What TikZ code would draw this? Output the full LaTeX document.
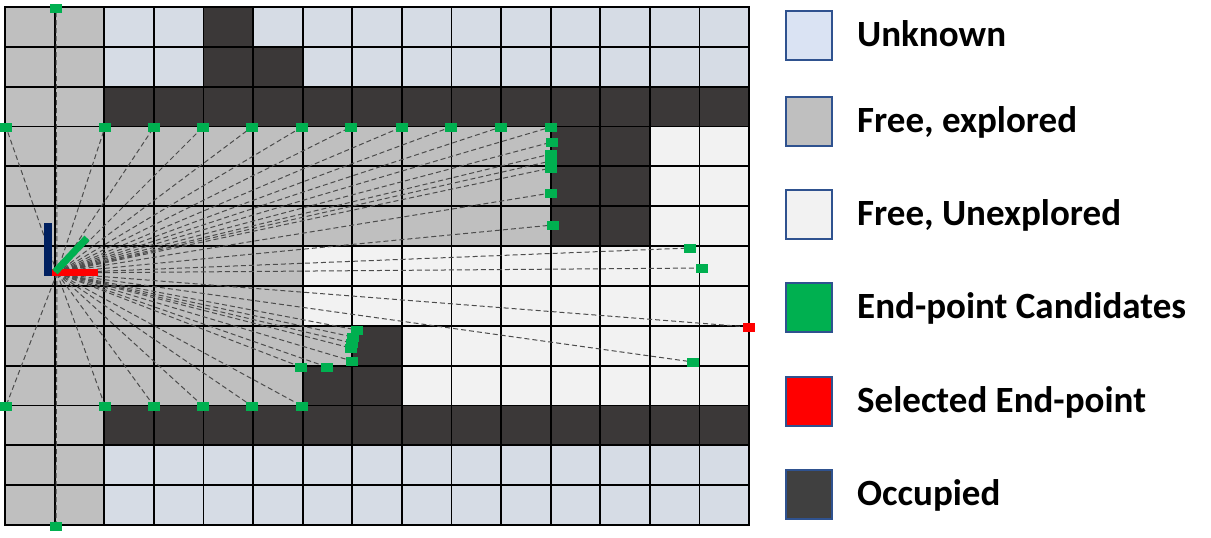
\documentclass[tikz,border=0pt]{standalone}
\usepackage{fontspec}
\setmainfont{Carlito}
\definecolor{cgray}{HTML}{BFBFBF}
\definecolor{cunk}{HTML}{D6DCE5}
\definecolor{cunkleg}{HTML}{DAE3F3}
\definecolor{cocc}{HTML}{3B3838}
\definecolor{coccleg}{HTML}{404040}
\definecolor{clight}{HTML}{F2F2F2}
\definecolor{cgreen}{HTML}{00B050}
\definecolor{cblue}{HTML}{002060}
\definecolor{legborder}{HTML}{2F528F}
\pgfdeclarelayer{gridlayer}
\pgfdeclarelayer{raylayer}
\pgfsetlayers{gridlayer,raylayer,main}
\begin{document}
\begin{tikzpicture}[x=1pt,y=-1pt,
  gridline/.style={black,line width=1.8pt,line cap=rect},
  ray/.style={black!70,line width=1pt,dash pattern=on 5pt off 3pt},
  endpt/.style={rectangle,fill=cgreen,minimum width=12pt,minimum height=9pt,inner sep=0pt,outer sep=0pt},
  selpt/.style={endpt,fill=red},
  legbox/.style={rectangle,draw=legborder,line width=2pt,minimum width=46pt,minimum height=49pt,inner sep=0pt},
  legtext/.style={anchor=base west,inner sep=0pt,font=\fontsize{37}{44}\selectfont\bfseries}]
\useasboundingbox (0,0) rectangle (1211,538);

% ---------- grid ----------
\begin{pgfonlayer}{gridlayer}
\begin{scope}[shift={(5,7)},x=49.6pt,y=-39.846pt]
 \fill[cgray] (0,0) rectangle (15,13);
 \fill[cunk] (2,0) rectangle (4,2) (5,0) rectangle (15,1) (6,1) rectangle (15,2) (2,11) rectangle (15,13);
 \fill[cocc] (4,0) rectangle (5,1) (4,1) rectangle (6,2) (2,2) rectangle (15,3)
   (11,3) rectangle (13,6) (7,8) rectangle (8,9) (6,9) rectangle (8,10) (2,10) rectangle (15,11);
 \fill[clight] (13,3) rectangle (15,6) (6,6) rectangle (15,8) (8,8) rectangle (15,10);
 \foreach \i in {0,...,15} \draw[gridline] (\i,0) -- (\i,13);
 \foreach \j in {0,...,13} \draw[gridline] (0,\j) -- (15,\j);
\end{scope}
\end{pgfonlayer}

% ---------- origin ----------
\coordinate (o) at (57,273);

% ---------- end-point candidates ----------
\node[endpt] (t0) at (6,127) {};
\node[endpt] (t1) at (105,127) {};
\node[endpt] (t2) at (154,127) {};
\node[endpt] (t3) at (203,127) {};
\node[endpt] (t4) at (252,127) {};
\node[endpt] (t5) at (302,127) {};
\node[endpt] (t6) at (351,127) {};
\node[endpt] (t7) at (402,127) {};
\node[endpt] (t8) at (451,127) {};
\node[endpt] (t9) at (501,127) {};
\node[endpt] (t10) at (551,127) {};
\node[endpt] (r1) at (552,142) {};
\node[endpt] (r2) at (551,154) {};
\node[endpt] (r3) at (551,161) {};
\node[endpt] (r4) at (551,168) {};
\node[endpt] (r5) at (551,193) {};
\node[endpt] (r6) at (553,225) {};
\node[endpt] (f1) at (690,248) {};
\node[endpt] (f2) at (702,268) {};
\node[selpt] (sel) at (749,327) {};
\node[endpt] (f3) at (693,362) {};
\node[endpt] (c1) at (357,330) {};
\node[endpt] (c2) at (353,337) {};
\node[endpt] (c3) at (352,343) {};
\node[endpt] (c4) at (351,348) {};
\node[endpt] (c5) at (352,361) {};
\node[endpt] (c6) at (327,367) {};
\node[endpt] (c7) at (301,367) {};
\node[endpt] (b0) at (6,406) {};
\node[endpt] (b1) at (105,406) {};
\node[endpt] (b2) at (154,406) {};
\node[endpt] (b3) at (203,406) {};
\node[endpt] (b4) at (252,406) {};
\node[endpt] (b5) at (302,406) {};
\node[endpt] (top) at (56,8) {};
\node[endpt] (bot) at (56,526) {};

% ---------- rays ----------
\begin{pgfonlayer}{raylayer}
\foreach \p in {t0,t1,t2,t3,t4,t5,t6,t7,t8,t9,t10,r1,r2,r3,r4,r5,r6,f1,f2,sel,f3,c1,c2,c3,c4,c5,c6,c7,b0,b1,b2,b3,b4,b5,top,bot}
  \draw[ray] (o) -- (\p.center);
\end{pgfonlayer}

% ---------- robot ----------
\fill[cblue] (44,223) rectangle (52,276);
\fill[red] (52,269) rectangle (98,276);
\draw[cgreen,line width=7pt] (55,272) -- (87,238);

% ---------- legend ----------
\node[legbox,fill=cunkleg] (l1) at (808.5,35) {};
\node[legbox,fill=cgray] (l2) at (808.5,121) {};
\node[legbox,fill=clight] (l3) at (808.5,214) {};
\node[legbox,fill=cgreen] (l4) at (808.5,307) {};
\node[legbox,fill=red] (l5) at (808.5,401) {};
\node[legbox,fill=coccleg] (l6) at (808.5,494) {};
\node[legtext] (tx1) at (857,46) {Unknown};
\node[legtext] (tx2) at (857,132) {Free, explored};
\node[legtext] (tx3) at (857,225.5) {Free, Unexplored};
\node[legtext] (tx4) at (857,318.5) {End-point Candidates};
\node[legtext] (tx5) at (857,412) {Selected End-point};
\node[legtext] (tx6) at (857,505.5) {Occupied};
\end{tikzpicture}
\end{document}
